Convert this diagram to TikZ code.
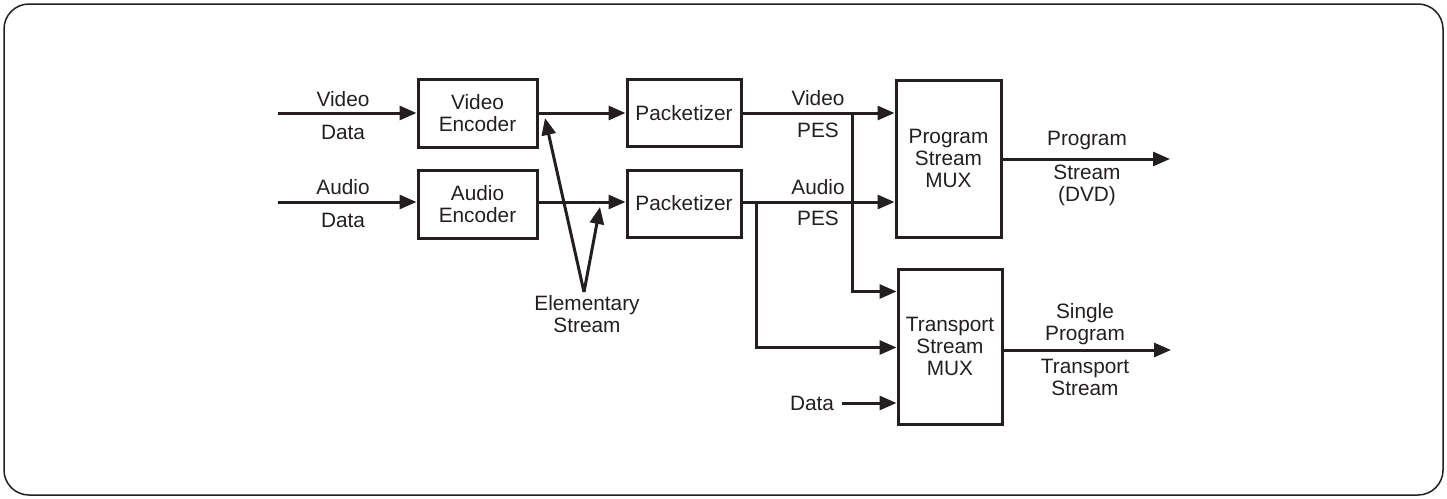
\documentclass[tikz,border=0pt]{standalone}
\usepackage{fontspec}
\setmainfont{Liberation Sans}
\usetikzlibrary{arrows.meta,calc}
\definecolor{ink}{RGB}{35,31,32}
\begin{document}
\begin{tikzpicture}[x=1pt,y=-1pt,
  every node/.style={text=ink,font=\fontsize{20.8}{22}\selectfont,align=center,inner sep=0pt},
  blk/.style={draw=ink,line width=3pt,minimum width=#1},
  blk/.default=118,
  conn/.style={draw=ink,line width=3pt},
  arr/.style={conn,-{Triangle[length=17pt,width=14pt]}}]
\useasboundingbox (0,0) rectangle (1447,498);
\draw[ink,line width=1.5pt,rounded corners=25pt] (4,4) rectangle (1443,495);
% blocks
\node[blk=119,minimum height=68] (venc) at (477.5,113.5) {Video\\Encoder};
\node[blk=119,minimum height=68] (aenc) at (477.5,204) {Audio\\Encoder};
\node[blk=114,minimum height=67] (pv) at (684,113) {Packetizer};
\node[blk=114,minimum height=67] (pa) at (684,203.5) {Packetizer};
\node[blk=105,minimum height=157] (psm) at (948.5,158.5) {Program\\Stream\\MUX};
\node[blk=104,minimum height=155] (tsm) at (950,346.5) {Transport\\Stream\\MUX};
% inputs
\coordinate (vin) at (278,113);
\coordinate (ain) at (278,202);
\draw[arr] (vin) -- (venc.west |- vin);
\draw[arr] (ain) -- (aenc.west |- ain);
\node (vlab) at (343,99) {Video};
\node (vdat) at (343,132) {Data};
\node (alab) at (343,187) {Audio};
\node (adat) at (343,220) {Data};
% encoder to packetizer
\draw[arr] (venc.east |- vin) -- (pv.west |- vin);
\draw[arr] (aenc.east |- ain) -- (pa.west |- ain);
% PES to program stream mux
\draw[arr] (pv.east |- vin) -- (psm.west |- vin);
\draw[arr] (pa.east |- ain) -- (psm.west |- ain);
\node (vpes1) at (818,98) {Video};
\node (vpes2) at (818,130) {PES};
\node (apes1) at (818,187) {Audio};
\node (apes2) at (818,218) {PES};
% branches to transport mux
\coordinate (vb) at (852,113);
\coordinate (ab) at (756,202);
\coordinate (vt) at (852,291.5);
\coordinate (at) at (756,347.5);
\draw[arr] (vb) -- (vt) -- (tsm.west |- vt);
\draw[arr] (ab) -- (at) -- (tsm.west |- at);
% data
\node (data) at (812,403) {Data};
\coordinate (ds) at (842,403);
\draw[arr] (ds) -- (tsm.west |- ds);
% outputs
\coordinate (pout) at (1170,159);
\coordinate (tout) at (1171,350);
\draw[arr] (psm.east |- pout) -- (pout);
\draw[arr] (tsm.east |- tout) -- (tout);
\node (po1) at (1087,141) {Program};
\node (po2) at (1087,185.5) {Stream\\(DVD)};
\node (to1) at (1085,324) {Single\\Program};
\node (to2) at (1085,377) {Transport\\Stream};
% elementary stream
\coordinate (apex) at (584,292);
\coordinate (et1) at (545,118);
\coordinate (et2) at (600,207);
\draw[arr] (apex) -- (et1);
\draw[arr] (apex) -- (et2);
\node (es) at (587,314) {Elementary\\Stream};
\end{tikzpicture}
\end{document}
